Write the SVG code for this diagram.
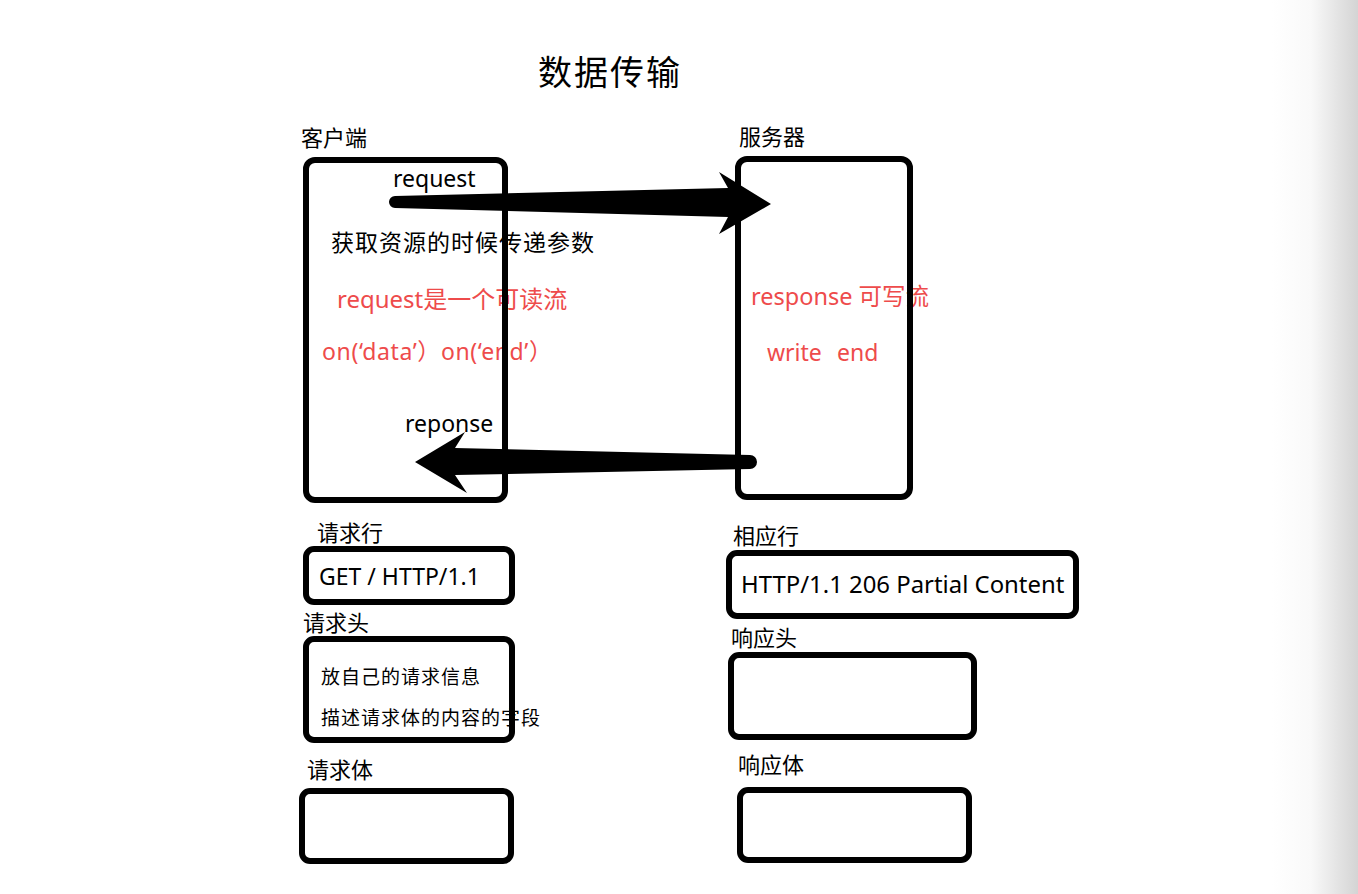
<svg xmlns="http://www.w3.org/2000/svg" width="1358" height="894" viewBox="0 0 1358 894">
<defs>
<linearGradient id="edge" x1="0" y1="0" x2="1" y2="0">
<stop offset="0" stop-color="#ffffff"/>
<stop offset="0.45" stop-color="#f9f9f9"/>
<stop offset="1" stop-color="#d4d4d4"/>
</linearGradient>
</defs>
<style>
text{font-family:"Noto Sans","Noto Sans CJK SC",sans-serif;fill:#000}
.t23{font-size:23px}
.lbl{font-size:22px}
.red{fill:#ee4b4b}
.box{fill:none;stroke:#000;stroke-width:6}
.arrow{fill:#000;stroke:none}
</style>
<rect x="0" y="0" width="1358" height="894" fill="#fff"/>
<rect x="1272" y="0" width="86" height="894" fill="url(#edge)"/>

<g id="title"><text x="538" y="85" style="font-size:34px;letter-spacing:2px">数据传输</text></g>

<g id="client">
<text class="lbl" x="301" y="146">客户端</text>
<text class="t23" x="393" y="187">request</text>
<text class="t23" x="331" y="251" style="letter-spacing:1px">获取资源的时候传递参数</text>
<text class="red" x="337" y="308" style="font-size:24px">request是一个可读流</text>
<text class="t23 red" x="322" y="360" textLength="230" lengthAdjust="spacing">on(‘data’）on(‘end’）</text>
<text class="t23" x="405" y="432">reponse</text>
<rect class="box" x="306" y="160" width="199" height="340" rx="9"/>
</g>

<g id="server">
<text class="lbl" x="739" y="145">服务器</text>
<text class="red" x="751" y="305" style="font-size:23.5px">response 可写流</text>
<text class="t23 red" x="767" y="361">write<tspan x="837">end</tspan></text>
<rect class="box" x="738" y="159" width="172" height="338" rx="9"/>
</g>

<g id="req-line">
<text class="lbl" x="317" y="541">请求行</text>
<text x="319" y="585" style="font-size:23px">GET / HTTP/1.1</text>
<rect class="box" x="306" y="549" width="206" height="53" rx="8"/>
</g>

<g id="req-head">
<text class="lbl" x="303" y="631">请求头</text>
<text x="321" y="684" style="font-size:19px;letter-spacing:1px">放自己的请求信息</text>
<text x="321" y="725" style="font-size:19px;letter-spacing:1px">描述请求体的内容的字段</text>
<rect class="box" x="306" y="639" width="206" height="101" rx="8"/>
</g>

<g id="req-body">
<text class="lbl" x="307" y="778">请求体</text>
<rect class="box" x="302" y="791" width="209" height="70" rx="8"/>
</g>

<g id="res-line">
<text class="lbl" x="733" y="544">相应行</text>
<text x="741" y="593" style="font-size:23.9px">HTTP/1.1 206 Partial Content</text>
<rect class="box" x="729" y="553" width="347" height="63" rx="8"/>
</g>

<g id="res-head">
<text class="lbl" x="731" y="646">响应头</text>
<rect class="box" x="731" y="655" width="243" height="82" rx="8"/>
</g>

<g id="res-body">
<text class="lbl" x="738" y="773">响应体</text>
<rect class="box" x="740" y="790" width="229" height="70" rx="8"/>
</g>

<g id="connectors">
<path class="arrow" d="M395,196 L728,188 L719,172 L771,204 L719,234 L728,217 L395,208 A6,6 0 0 1 395,196 Z"/>
<path class="arrow" d="M750,455 L455,448 L465,432 L415,462 L467,493 L455,475 L750,469 A7,7 0 0 0 750,455 Z"/>
</g>
</svg>
